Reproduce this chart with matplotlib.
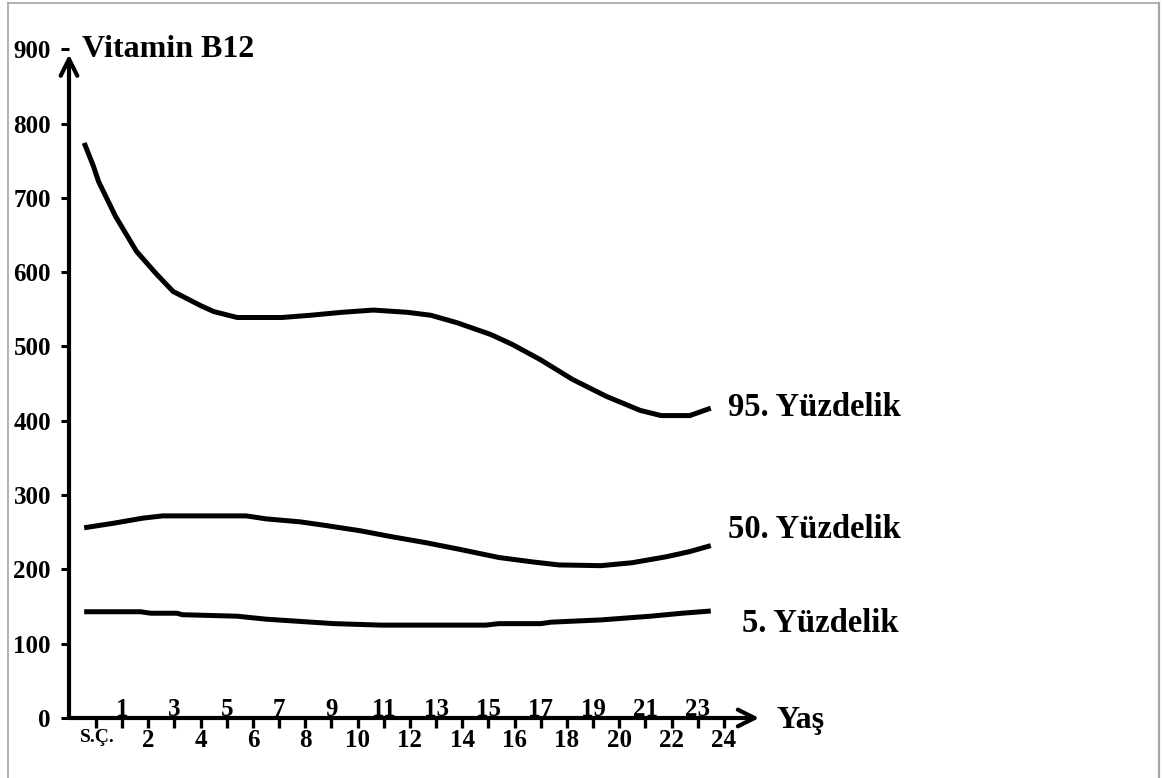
import matplotlib
matplotlib.use('Agg')
import matplotlib.pyplot as plt
from matplotlib.lines import Line2D

plt.rcParams['font.family'] = ['Liberation Serif', 'DejaVu Serif']
plt.rcParams['font.weight'] = 'bold'

# age positions (S.Ç. = 0, then years) and values
x95 = [-0.45, -0.1, 0.1, 0.75, 1.55, 2.3, 2.95, 4.0, 4.5, 5.4, 7.1, 8.2, 9.4,
       10.6, 11.9, 12.8, 13.8, 15.1, 15.9, 17.0, 18.2, 19.5, 20.8, 21.6, 22.7, 23.5]
v95 = [774, 743, 722, 675, 628, 598, 574, 555, 547, 539, 539, 542, 546,
       549, 546, 542, 532, 516, 503, 482, 456, 433, 414, 407, 407, 417]

x50 = [-0.45, 0.65, 1.8, 2.55, 5.75, 6.5, 7.8, 8.8, 10.1, 11.3, 12.6, 13.9, 15.4,
       16.7, 17.7, 19.3, 20.5, 21.8, 22.7, 23.5]
v50 = [256, 262, 269, 272, 272, 268, 264, 259, 252, 244, 236, 227, 216,
       210, 206, 205, 209, 217, 224, 232]

x5 = [-0.45, 1.7, 2.1, 3.1, 3.3, 5.4, 6.5, 7.8, 9.1, 10.9, 14.9, 15.4, 17.0, 17.4,
      19.3, 21.2, 22.4, 23.5]
v5 = [143, 143, 141, 141, 139, 137, 133, 130, 127, 125, 125, 127, 127, 129,
      132, 137, 141, 144]

even_ticks = [0, 2, 4, 6, 8, 10, 12, 14, 16, 18, 20, 22, 24]
even_labels = ['', '2', '4', '6', '8', '10', '12', '14', '16', '18', '20', '22', '24']
odd_ticks = [1, 3, 5, 7, 9, 11, 13, 15, 17, 19, 21, 23]
y_ticks = [0, 100, 200, 300, 400, 500, 600, 700, 800, 900]

series_labels = ['95. Yüzdelik', '50. Yüzdelik', '5. Yüzdelik']
label_pos = [(24.15, 406), (24.15, 242), (24.7, 116)]

fig = plt.figure(figsize=(11.62, 7.78), dpi=100)
ax = fig.add_axes([69 / 1162, 60 / 778, 696.7 / 1162, 683.6 / 778])
ax.set_xlim(-1.03, 25.6)
ax.set_ylim(0, 920)

for xs, vs in [(x95, v95), (x50, v50), (x5, v5)]:
    ax.plot(xs, vs, color='black', lw=3.6, solid_capstyle='butt')

for s in ax.spines.values():
    s.set_visible(False)

# axes drawn as arrows
ax.annotate('', xy=(25.35, 0), xytext=(-1.03, 0),
            arrowprops=dict(arrowstyle='->', lw=3, color='black',
                            mutation_scale=30, shrinkA=0, shrinkB=0),
            annotation_clip=False)
ax.annotate('', xy=(-1.03, 893), xytext=(-1.03, 0),
            arrowprops=dict(arrowstyle='->', lw=3, color='black',
                            mutation_scale=30, shrinkA=0, shrinkB=0),
            annotation_clip=False)

ax.set_yticks(y_ticks)
ax.set_yticklabels([str(t) for t in y_ticks], fontsize=18, fontweight='bold')
ax.tick_params(axis='y', direction='out', length=6, width=2.2, pad=7)

all_ticks = sorted(even_ticks + odd_ticks)
ax.set_xticks(all_ticks)
ax.set_xticklabels(['' for _ in all_ticks])
ax.tick_params(axis='x', direction='out', length=7, width=2.4)

for t, lab in zip(even_ticks, even_labels):
    ax.text(t, -15, lab, ha='center', va='top', fontsize=18, fontweight='bold')
ax.text(0.05, -15, 'S.Ç.', ha='center', va='top', fontsize=14, fontweight='bold')
for t in odd_ticks:
    ax.text(t, -4, str(t), ha='center', va='bottom', fontsize=18, fontweight='bold')

ax.text(-0.55, 890, 'Vitamin B12', ha='left', va='baseline', fontsize=23,
        fontweight='bold', clip_on=False)
ax.text(26.03, -13, 'Yaş', ha='left', va='baseline', fontsize=23,
        fontweight='bold', clip_on=False)

for lab, (lx, ly) in zip(series_labels, label_pos):
    ax.text(lx, ly, lab, ha='left', va='baseline', fontsize=23.5,
            fontweight='bold', clip_on=False)

# thin grey frame around the picture
gray = '#a6a6a6'
fig.add_artist(Line2D([8 / 1162, 8 / 1162], [0, 1 - 3 / 778], color=gray, lw=1.2))
fig.add_artist(Line2D([8 / 1162, 1159 / 1162], [1 - 3 / 778, 1 - 3 / 778], color=gray, lw=1.2))
fig.add_artist(Line2D([1159 / 1162, 1159 / 1162], [0, 1 - 3 / 778], color=gray, lw=1.6))

fig.savefig('out.png', dpi=100)
